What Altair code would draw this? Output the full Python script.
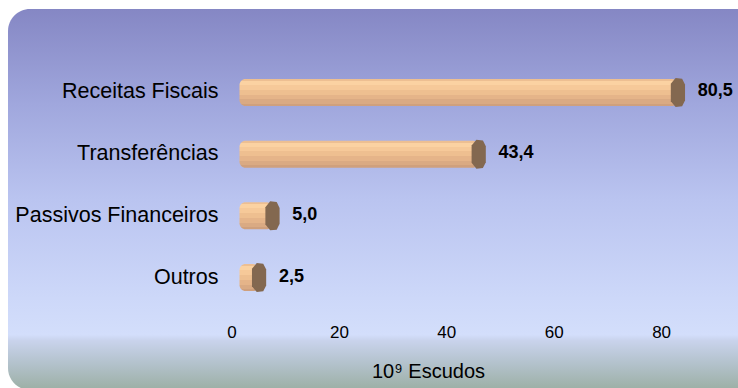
import altair as alt
import pandas as pd

categories = ["Receitas Fiscais", "Transferências", "Passivos Financeiros", "Outros"]
values = [80.5, 43.4, 5.0, 2.5]
tick_values = [0, 20, 40, 60, 80]
axis_title = "10\u2079 Escudos"

labels = [f"{v:.1f}".replace(".", ",") for v in values]
df = pd.DataFrame({"category": categories, "value": values, "label": labels})

FONT = "Liberation Sans"
PLOT_W = 506.5
PLOT_H = 246.8
PAD_L = 231.5
PAD_T = 61.6
X_MAX = PLOT_W / 5.37

x_scale = alt.Scale(domain=[0, X_MAX], nice=False, zero=True)
y_scale = alt.Scale(domain=categories, paddingInner=0, paddingOuter=0)

bg_gradient = alt.LinearGradient(
    gradient="linear", x1=0, x2=0, y1=0, y2=1,
    stops=[
        alt.GradientStop(color="#8587C4", offset=0.0),
        alt.GradientStop(color="#A0A7DD", offset=0.25),
        alt.GradientStop(color="#BAC4F0", offset=0.5),
        alt.GradientStop(color="#CDD8F9", offset=0.76),
        alt.GradientStop(color="#D3DEFB", offset=0.855),
        alt.GradientStop(color="#C9D3EC", offset=0.87),
        alt.GradientStop(color="#B3C2CC", offset=0.93),
        alt.GradientStop(color="#9CAFA4", offset=1.0),
    ],
)

bar_gradient = alt.LinearGradient(
    gradient="linear", x1=0, x2=0, y1=0, y2=1,
    stops=[
        alt.GradientStop(color="#EDBF92", offset=0.0),
        alt.GradientStop(color="#EDBF92", offset=0.07),
        alt.GradientStop(color="#FBD2A2", offset=0.07),
        alt.GradientStop(color="#FBD2A2", offset=0.22),
        alt.GradientStop(color="#F6C999", offset=0.22),
        alt.GradientStop(color="#F6C999", offset=0.40),
        alt.GradientStop(color="#EEBF90", offset=0.40),
        alt.GradientStop(color="#EEBF90", offset=0.58),
        alt.GradientStop(color="#E5B489", offset=0.58),
        alt.GradientStop(color="#E5B489", offset=0.76),
        alt.GradientStop(color="#DAAA83", offset=0.76),
        alt.GradientStop(color="#DAAA83", offset=0.92),
        alt.GradientStop(color="#CFA07D", offset=0.92),
        alt.GradientStop(color="#CFA07D", offset=1.0),
    ],
)

background = alt.Chart(pd.DataFrame({"bg": [0]})).mark_rect(
    color=bg_gradient, cornerRadius=22
).encode(
    x=alt.value(8 - PAD_L),
    x2=alt.value(738 - PAD_L + 40),
    y=alt.value(9 - PAD_T),
    y2=alt.value(390 - PAD_T),
)

base = alt.Chart(df)

bars = base.mark_bar(color=bar_gradient, size=27, cornerRadius=6, xOffset=14, x2Offset=8).encode(
    x=alt.X(
        "value:Q", scale=x_scale, stack=None,
        axis=alt.Axis(
            values=tick_values, grid=False, domain=False, ticks=False,
            labelFontSize=17, labelFont=FONT, labelColor="#000000", labelPadding=16,
            labelFlush=False, labelOverlap=False,
            title=axis_title, titleFont=FONT, titleFontSize=20, titleFontWeight="normal",
            titleColor="#000000", titleX=196.5, titleY=69.5, titleAlign="center",
            titleBaseline="alphabetic", zindex=1,
        ),
    ),
    x2=alt.X2(datum=0),
    y=alt.Y(
        "category:N", scale=y_scale, sort=categories,
        axis=alt.Axis(
            title=None, domain=False, ticks=False, grid=False,
            labelFontSize=21.5, labelFont=FONT, labelColor="#000000", labelPadding=13.5,
            labelLimit=300, zindex=1,
        ),
    ),
)

cap_shape = "M-0.15,-1 L0.3,-0.95 L0.5,-0.55 L0.5,0.55 L0.3,0.95 L-0.15,1 L-0.48,0.6 L-0.48,-0.6 Z"
caps = base.mark_point(
    shape=cap_shape, filled=True, color="#836850", opacity=1, size=841, xOffset=14, strokeWidth=0
).encode(
    x=alt.X("value:Q", scale=x_scale),
    y=alt.Y("category:N", scale=y_scale, sort=categories),
)

texts = base.mark_text(
    align="left", baseline="middle", dx=34, dy=-1, font=FONT, fontSize=18,
    fontWeight="bold", color="#000000",
).encode(
    x=alt.X("value:Q", scale=x_scale),
    y=alt.Y("category:N", scale=y_scale, sort=categories),
    text="label:N",
)

chart = alt.layer(background, bars, caps, texts).properties(
    width=PLOT_W,
    height=PLOT_H,
    padding={"left": PAD_L, "top": PAD_T, "right": 0, "bottom": 388 - PAD_T - PLOT_H},
    autosize="none",
    background="#FFFFFF",
).configure_view(stroke=None)

chart.save("out.html", embed_options={"renderer": "svg", "actions": False})
